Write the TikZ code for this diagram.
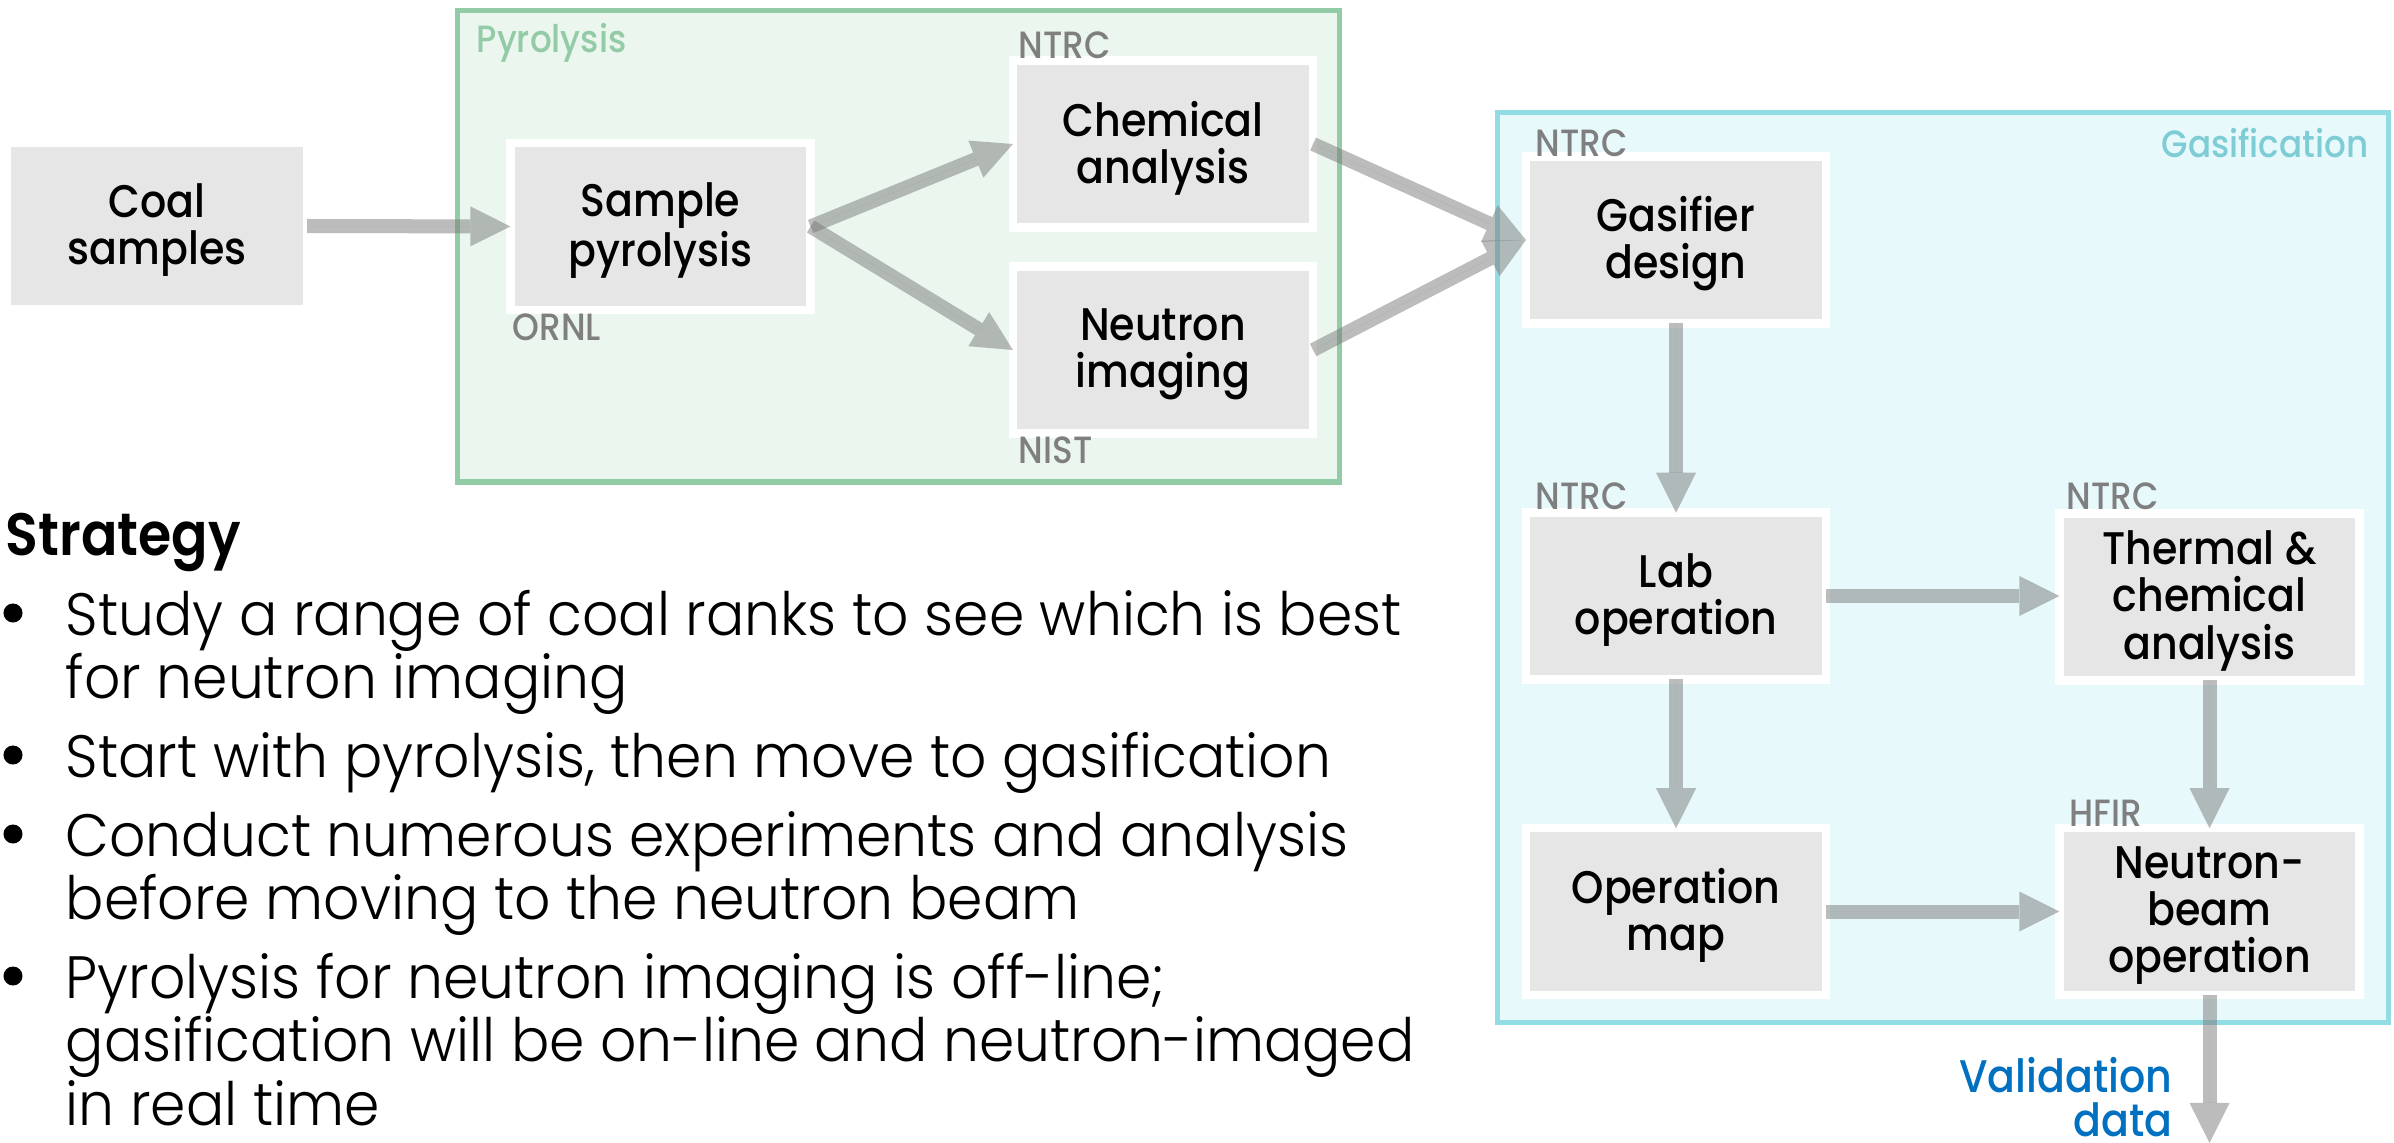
\documentclass[tikz,border=0pt]{standalone}
\usepackage{fontspec}
\setmainfont{Poppins}[FakeStretch=0.9]
\newfontfamily\popLight{Poppins}[UprightFont={* Light}, FakeStretch=0.95]
\newfontfamily\popMed{Poppins}[UprightFont={* Medium}, FakeStretch=0.9]
\newfontfamily\popSemi{Poppins}[UprightFont={* SemiBold}, FakeStretch=0.9]
\usetikzlibrary{arrows.meta}
\definecolor{boxgray}{HTML}{E6E6E6}
\definecolor{pyrofill}{HTML}{EAF6EE}
\definecolor{pyroline}{HTML}{93CBA6}
\definecolor{gasfill}{HTML}{E8F9FC}
\definecolor{gasline}{HTML}{92DCE3}
\definecolor{gastext}{HTML}{7ECCD5}
\definecolor{arrowgray}{HTML}{7A7A7A}
\definecolor{orggray}{HTML}{7F7F7F}
\definecolor{valblue}{HTML}{0070C0}
\newcommand\fBox{\popMed\fontsize{13}{13.4}\selectfont}
\newcommand\fOrg{\popMed\fontsize{10.8}{12}\selectfont}
\newcommand\fBul{\popLight\fontsize{17}{18}\selectfont}
\newcommand\fHead{\popSemi\fontsize{17}{18}\selectfont}
\newcommand\fVal{\popMed\fontsize{13}{14}\selectfont}
\tikzset{
  procbox/.style={draw=white, line width=0.085cm, fill=boxgray, minimum width=3.0cm,
    minimum height=1.665cm, inner sep=0pt, outer sep=0pt},
  boxtext/.style={align=center, font=\fBox, inner sep=0pt, yshift=-0.04cm},
  flow/.style={draw=arrowgray, fill=arrowgray, opacity=0.5, line width=0.14cm,
    -{Triangle[length=0.4cm, width=0.4cm, line width=0pt]}},
  orglabel/.style={text=orggray, font=\fOrg, inner sep=0pt, anchor=base west},
  bulline/.style={font=\fBul, inner sep=0pt, anchor=base west},
  buldot/.style={circle, fill=black, minimum size=0.19cm, inner sep=0pt},
  grouplabel/.style={font=\fOrg, inner sep=0pt},
}
\begin{document}
\begin{tikzpicture}[x=0.01cm, y=-0.01cm]
\useasboundingbox (0,0) rectangle (2394,1143);
\fill[white] (0,0) rectangle (2394,1143);

% group frames
\draw[pyroline, fill=pyrofill, line width=0.05cm] (457,10.5) rectangle (1339,482);
\draw[gasline, fill=gasfill, line width=0.05cm] (1497,112.5) rectangle (2388,1022);
\node[grouplabel, text=pyroline, anchor=base west] (pyrolbl) at (476,53) {Pyrolysis};
\node[grouplabel, text=gastext, anchor=base east] (gaslbl) at (2369,158) {Gasification};

% process boxes
\node[procbox] (coal)  at (157,226)     {};
\node[procbox] (samp)  at (660.5,226.5) {};
\node[procbox] (chem)  at (1163,144)    {};
\node[procbox] (neut)  at (1163,350)    {};
\node[procbox] (gas)   at (1676,240)    {};
\node[procbox] (lab)   at (1676,596)    {};
\node[procbox] (therm) at (2209.5,597)  {};
\node[procbox] (opmap) at (1676,911.5)  {};
\node[procbox] (nbeam) at (2209.5,911.5){};

\node[boxtext] (coalT)  at (coal.center)  {Coal\\samples};
\node[boxtext] (sampT)  at (samp.center)  {Sample\\pyrolysis};
\node[boxtext] (chemT)  at (chem.center)  {Chemical\\analysis};
\node[boxtext] (neutT)  at (neut.center)  {Neutron\\imaging};
\node[boxtext] (gasT)   at (gas.center)   {Gasifier\\design};
\node[boxtext] (labT)   at (lab.center)   {Lab\\operation};
\node[boxtext] (thermT) at (therm.center) {Thermal \&\\chemical\\analysis};
\node[boxtext] (opmapT) at (opmap.center) {Operation\\map};
\node[boxtext] (nbeamT) at (nbeam.center) {Neutron-\\beam\\operation};

% organisation labels
\node[orglabel] (l1) at (1018,59)  {NTRC};
\node[orglabel] (l2) at (512,341)  {ORNL};
\node[orglabel] (l3) at (1018,464) {NIST};
\node[orglabel] (l4) at (1535,157) {NTRC};
\node[orglabel] (l5) at (1535,509) {NTRC};
\node[orglabel] (l6) at (2066,509) {NTRC};
\node[orglabel] (l7) at (2069,826) {HFIR};

% connectors
\coordinate (out) at (2209.5,1143);
\draw[flow] (coal.east) -- (samp.west);
\draw[flow] (samp.east) -- (chem.west);
\draw[flow] (samp.east) -- (neut.west);
\draw[flow] (chem.east) -- (gas.west);
\draw[flow] (neut.east) -- (gas.west);
\draw[flow] (gas.south) -- (lab.north);
\draw[flow] (lab.east) -- (lab.east -| therm.west);
\draw[flow] (lab.south) -- (opmap.north);
\draw[flow] (therm.south) -- (nbeam.north);
\draw[flow] (opmap.east) -- (nbeam.west);
\draw[flow] (nbeam.south) -- (out);

\node[font=\fVal, text=valblue, inner sep=0pt, anchor=base east] (val1) at (2173,1092) {Validation};
\node[font=\fVal, text=valblue, inner sep=0pt, anchor=base east] (val2) at (2173,1136) {data};

% strategy text
\node[font=\fHead, inner sep=0pt, anchor=base west] (strat) at (5,555) {Strategy};
\node[buldot] (d1) at (13,613) {};
\node[buldot] (d2) at (13,755) {};
\node[buldot] (d3) at (13,834) {};
\node[buldot] (d4) at (13,976) {};
\node[bulline] (b1) at (65,635)  {Study a range of coal ranks to see which is best};
\node[bulline] (b2) at (65,698)  {for neutron imaging};
\node[bulline] (b3) at (65,777)  {Start with pyrolysis, then move to gasification};
\node[bulline] (b4) at (65,856)  {Conduct numerous experiments and analysis};
\node[bulline] (b5) at (65,919)  {before moving to the neutron beam};
\node[bulline] (b6) at (65,998)  {Pyrolysis for neutron imaging is off-line;};
\node[bulline] (b7) at (65,1061) {gasification will be on-line and neutron-imaged};
\node[bulline] (b8) at (65,1125) {in real time};
\end{tikzpicture}
\end{document}
